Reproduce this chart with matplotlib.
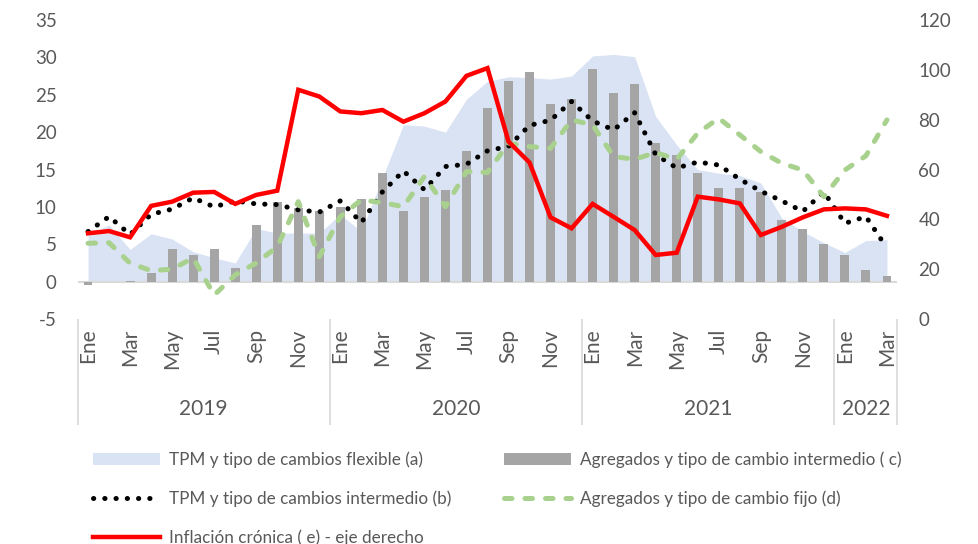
import numpy as np
import matplotlib
matplotlib.use('Agg')
import matplotlib.pyplot as plt

plt.rcParams['font.family'] = ['Lato', 'DejaVu Sans']
plt.rcParams['axes.unicode_minus'] = False

# monthly series, Ene 2019 - Mar 2022
months = ['Ene', 'Feb', 'Mar', 'Abr', 'May', 'Jun', 'Jul', 'Ago', 'Sep', 'Oct', 'Nov', 'Dic'] * 3 + ['Ene', 'Feb', 'Mar']
years = ['2019', '2020', '2021', '2022']
year_len = [12, 12, 12, 3]

# (a) area, left axis
flexible = [6.3, 7.6, 4.3, 6.4, 5.7, 4.0, 3.2, 2.5, 7.1, 6.5, 6.5, 6.5,
            9.0, 6.7, 13.9, 21.0, 20.8, 20.0, 24.4, 26.8, 27.4, 27.3, 27.1, 27.5,
            30.2, 30.4, 30.1, 22.1, 18.3, 15.0, 14.5, 14.2, 13.2, 8.5, 6.7, 5.2,
            3.9, 5.5, 5.6]
# (c) bars, left axis
agreg_interm = [-0.4, 0.0, 0.1, 1.2, 4.4, 3.5, 4.3, 1.8, 7.6, 10.6, 9.9, 9.4,
                10.0, 11.1, 14.5, 9.4, 11.3, 12.2, 17.5, 23.2, 26.9, 28.0, 23.7, 24.5,
                28.5, 25.2, 26.4, 18.6, 17.0, 14.6, 12.5, 12.5, 12.0, 8.3, 7.0, 5.0,
                3.6, 1.5, 0.8]
# (b) dotted, left axis
tpm_interm = [6.7, 8.7, 6.3, 9.0, 9.7, 11.2, 10.0, 10.8, 10.4, 10.3, 9.6, 9.3,
              10.8, 7.9, 12.0, 14.8, 12.3, 15.4, 15.7, 17.5, 18.1, 20.9, 21.6, 24.1,
              21.5, 20.3, 22.6, 17.0, 15.2, 16.0, 15.6, 13.7, 12.1, 10.8, 9.4, 12.0,
              7.8, 8.7, 4.5]
# (d) dashed, right axis
agreg_fijo = [30.4, 30.6, 22.4, 19.4, 20.0, 24.5, 9.6, 17.7, 22.5, 29.0, 47.1, 25.0,
              41.1, 47.8, 46.7, 45.1, 57.2, 45.1, 59.2, 58.8, 70.6, 69.2, 68.5, 79.9,
              77.9, 65.2, 64.1, 66.8, 64.1, 74.6, 80.6, 73.9, 67.2, 62.5, 59.8, 49.1,
              59.8, 65.5, 79.9]
# (e) red, right axis
inflacion = [34.4, 35.3, 32.8, 45.4, 47.1, 50.7, 51.0, 46.2, 49.8, 51.5, 92.0, 89.3,
             83.3, 82.6, 83.9, 79.2, 82.6, 87.3, 97.6, 100.7, 71.2, 62.8, 40.8, 36.4,
             46.2, 41.0, 35.7, 25.7, 26.6, 49.1, 48.0, 46.4, 33.7, 37.0, 40.8, 44.0,
             44.4, 44.0, 41.4]

labels = ['TPM y tipo de cambios flexible (a)',
          'Agregados y tipo de cambio intermedio ( c)',
          'TPM y tipo de cambios intermedio (b)',
          'Agregados y tipo de cambio fijo (d)',
          'Inflación crónica ( e) - eje derecho']

tick_color = '#595959'
x = np.arange(len(months))

fig = plt.figure(figsize=(9.79, 5.44), dpi=100)
ax = fig.add_axes([0.0792, 0.4136, 0.9167 - 0.0792, 0.9632 - 0.4136])
ax2 = ax.twinx()

h_area = ax.fill_between(x, 0, flexible, color='#DAE3F3', lw=0, zorder=1)
h_bar = ax.bar(x, agreg_interm, width=0.42, color='#A5A5A5', zorder=2)
h_dot, = ax.plot(x, tpm_interm, color='black', lw=3.6, dashes=(0.05, 2.2),
                 dash_capstyle='round', zorder=3)
ax.axhline(0, color='#D9D9D9', lw=1.5, zorder=1.5)

h_fijo, = ax2.plot(x, agreg_fijo, color='#A9D18E', lw=3.6, dashes=(1.5, 2.6),
                   dash_capstyle='round')
h_red, = ax2.plot(x, inflacion, color='#FF0000', lw=3.2, solid_joinstyle='miter')

ax.set_xlim(-0.5, len(x) - 0.5)
ax.set_ylim(-5, 35)
ax.set_yticks(range(-5, 36, 5))
ax2.set_ylim(0, 120)
ax2.set_yticks(range(0, 121, 20))

for a in (ax, ax2):
    for s in a.spines.values():
        s.set_visible(False)
    a.tick_params(axis='both', length=0, labelsize=13.5, colors=tick_color)
ax.tick_params(axis='y', pad=15)
ax2.tick_params(axis='y', pad=15)

ax.set_xticks(x[::2])
ax.set_xticklabels(months[::2], rotation=90, va='top', ha='center', fontsize=15)
ax.tick_params(axis='x', pad=7)

# year grouping below the month labels
trans = ax.get_xaxis_transform()
start = 0
bounds = [-0.5]
for yr, n in zip(years, year_len):
    ax.text(start + (n - 1) / 2, -0.302, yr, transform=trans, ha='center', va='center',
            fontsize=15, color=tick_color)
    start += n
    bounds.append(start - 0.5)
ax.vlines(bounds, -0.355, 0, transform=trans, colors='#D9D9D9', lw=1.2, clip_on=False)

fig.legend([h_area, h_dot, h_red, h_bar, h_fijo],
           [labels[0], labels[2], labels[4], labels[1], labels[3]],
           ncol=2, loc='upper left', bbox_to_anchor=(0.095, 0.170),
           frameon=False, fontsize=12.3, labelcolor=tick_color,
           handlelength=3.9, handletextpad=0.55, columnspacing=3.1,
           labelspacing=1.3, borderaxespad=0, borderpad=0)

fig.savefig('out.png', dpi=100)
